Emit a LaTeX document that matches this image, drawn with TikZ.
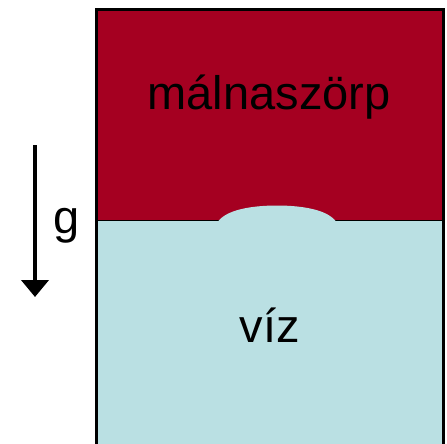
\documentclass[tikz,border=0pt]{standalone}
\usepackage{fontspec}
\setmainfont{Liberation Sans}
\usetikzlibrary{arrows.meta}
\definecolor{syrup}{RGB}{165,0,33}
\definecolor{water}{RGB}{186,224,227}
\tikzset{
  lbl/.style={font=\fontsize{47}{51}\selectfont, inner sep=0pt},
}
\begin{document}
\begin{tikzpicture}[x=1pt,y=-1pt]
\useasboundingbox (0,0) rectangle (447,444);
% layers
\fill[syrup] (96,10) rectangle (443,220.5);
\fill[water] (96,220.5) rectangle (443,444);
\draw[line width=1.5pt] (96,220.5) -- (443,220.5);
% bump of water
\fill[water] (218,221.5) .. controls (228,208) and (258,205.5) .. (277,205.5)
  .. controls (296,205.5) and (326,208) .. (336,221.5) -- cycle;
% container walls
\draw[line width=3pt] (96,444) -- (96,10) -- (443,10) -- (443,444);
% labels
\node[lbl] (syr) at (269,97) {málnaszörp};
\node[lbl] (wat) at (270,325) {víz};
% gravity arrow
\coordinate (gtop) at (35,145);
\coordinate (gbot) at (35,297);
\draw[line width=4.5pt, -{Triangle[length=17pt,width=27pt]}] (gtop) -- (gbot);
\node[lbl, anchor=base] (g) at (67,233) {g};
\end{tikzpicture}
\end{document}
